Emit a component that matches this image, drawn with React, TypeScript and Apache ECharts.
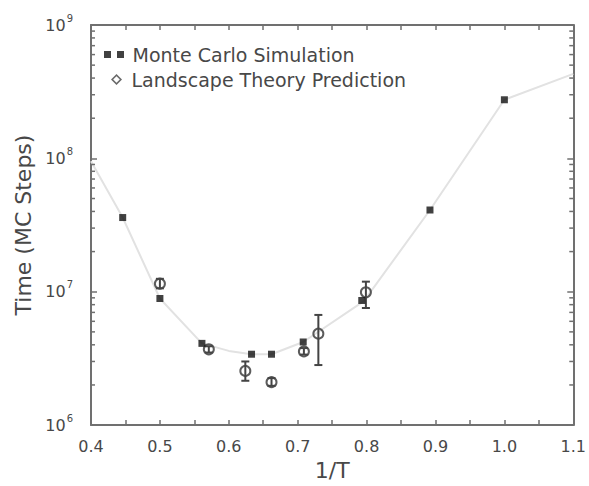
import React, { useEffect, useRef } from "react";
import * as echarts from "echarts";

// Monte Carlo simulation (filled squares)
const mcX = [0.446, 0.5, 0.561, 0.633, 0.662, 0.708, 0.793, 0.892, 1.0];
const mcY = [3.6e7, 8.9e6, 4.1e6, 3.4e6, 3.4e6, 4.2e6, 8.6e6, 4.1e7, 2.75e8];

// Landscape theory prediction (open circles with error bars)
const ltX = [0.5, 0.571, 0.624, 0.662, 0.709, 0.73, 0.799];
const ltY = [1.15e7, 3.7e6, 2.55e6, 2.1e6, 3.57e6, 4.85e6, 9.9e6];
const ltLow = [1.06e7, 3.5e6, 2.15e6, 1.97e6, 3.38e6, 2.82e6, 7.55e6];
const ltHigh = [1.25e7, 3.9e6, 3.0e6, 2.25e6, 3.78e6, 6.7e6, 1.19e7];

// light guide line
const guideX = [0.4, 0.446, 0.5, 0.561, 0.6, 0.633, 0.662, 0.708, 0.796, 0.892, 1.0, 1.1];
const guideY = [9.5e7, 3.6e7, 8.9e6, 4.1e6, 3.6e6, 3.4e6, 3.4e6, 4.2e6, 8.5e6, 4.1e7, 2.75e8, 4.3e8];

const xTickLabels = ["0.4", "0.5", "0.6", "0.7", "0.8", "0.9", "1.0", "1.1"];
const yDecades = [1e6, 1e7, 1e8];
const yMinorMultipliers = [2, 3, 4, 5, 6, 7, 8, 9];

const MC_NAME = "Monte Carlo Simulation";
const LT_NAME = "Landscape Theory Prediction";

const FONT = "DejaVu Sans";
const TEXT = "#484848";
const FRAME = "#707070";

export default function App() {
  const ref = useRef<HTMLDivElement>(null);

  useEffect(() => {
    if (!ref.current) return;
    const chart = echarts.init(ref.current, null, { renderer: "svg" });

    const minorTicks: number[][] = [];
    yDecades.forEach((d) => yMinorMultipliers.forEach((m) => minorTicks.push([0.4, d * m])));

    const xMin = 0.4, xMax = 1.1, yMin = 1e6, yMax = 1e9;

    const xAxisBase = {
      type: "value",
      min: xMin,
      max: xMax,
      interval: 0.1,
      axisLine: { show: true, lineStyle: { color: FRAME, width: 2 } },
      axisTick: { show: true, inside: true, length: 5, lineStyle: { color: FRAME, width: 1.5 } },
      minorTick: { show: true, splitNumber: 2, length: 5, lineStyle: { color: FRAME, width: 1.5 } },
      splitLine: { show: false },
    };
    const yAxisBase = {
      type: "log",
      logBase: 10,
      min: yMin,
      max: yMax,
      axisLine: { show: true, lineStyle: { color: FRAME, width: 2 } },
      axisTick: { show: true, inside: true, length: 6, lineStyle: { color: FRAME, width: 1.5 } },
      minorTick: { show: false },
      splitLine: { show: false },
    };

    const option: any = {
      animation: false,
      backgroundColor: "#ffffff",
      grid: { left: 91, right: 14, top: 25, bottom: 54 },
      legend: [
        {
          left: 104,
          top: 45,
          padding: 0,
          itemWidth: 27,
          itemHeight: 7,
          selectedMode: false,
          textStyle: { fontFamily: FONT, fontSize: 19, color: TEXT },
          data: [
            {
              name: MC_NAME,
              icon: "path://M0,0h7v7h-7z M13,0h7v7h-7z",
              itemStyle: { color: "#111", borderWidth: 0 },
            },
          ],
        },
        {
          left: 111,
          top: 70,
          padding: 0,
          itemWidth: 20,
          itemHeight: 11,
          selectedMode: false,
          textStyle: { fontFamily: FONT, fontSize: 19, color: TEXT },
          data: [
            {
              name: LT_NAME,
              icon: "path://M5,0L10,5L5,10L0,5Z M5,2L2,5L5,8L8,5Z",
              itemStyle: { color: "#444", borderWidth: 0 },
            },
          ],
        },
      ],
      xAxis: [
        {
          ...xAxisBase,
          position: "bottom",
          name: "1/T",
          nameLocation: "middle",
          nameGap: 25,
          nameTextStyle: { fontFamily: FONT, fontSize: 22, color: TEXT },
          axisLabel: {
            show: true,
            margin: 13,
            fontFamily: FONT,
            fontSize: 16,
            color: TEXT,
            formatter: (v: number) => {
              const idx = Math.round((v - xMin) / 0.1);
              return xTickLabels[idx] ?? "";
            },
          },
        },
        {
          ...xAxisBase,
          position: "top",
          axisLabel: { show: false },
        },
      ],
      yAxis: [
        {
          ...yAxisBase,
          position: "left",
          name: "Time (MC Steps)",
          nameLocation: "middle",
          nameGap: 52,
          nameTextStyle: { fontFamily: FONT, fontSize: 22, color: TEXT },
          axisLabel: {
            show: true,
            margin: 18,
            formatter: (v: number) => "{b|10}{s|" + Math.round(Math.log10(v)) + "}",
            rich: {
              b: { fontFamily: FONT, fontSize: 16, color: TEXT, lineHeight: 24 },
              s: { fontFamily: FONT, fontSize: 10, color: TEXT, lineHeight: 10, verticalAlign: "top", padding: [0, 0, 0, 1] },
            },
          },
        },
        {
          ...yAxisBase,
          position: "right",
          axisLabel: { show: false },
        },
      ],
      series: [
        {
          name: "guide",
          type: "line",
          data: guideX.map((x, i) => [x, guideY[i]]),
          showSymbol: false,
          symbol: "none",
          silent: true,
          lineStyle: { color: "#e2e2e2", width: 2 },
          z: 1,
        },
        {
          name: "minorTicks",
          type: "custom",
          silent: true,
          data: minorTicks,
          encode: { x: 0, y: 1 },
          renderItem: (_params: any, api: any) => {
            const v = api.value(1);
            const pL = api.coord([xMin, v]);
            const pR = api.coord([xMax, v]);
            const st = { stroke: FRAME, lineWidth: 1.5 };
            return {
              type: "group",
              children: [
                { type: "line", shape: { x1: pL[0], y1: pL[1], x2: pL[0] + 4, y2: pL[1] }, style: st },
                { type: "line", shape: { x1: pR[0] - 4, y1: pR[1], x2: pR[0], y2: pR[1] }, style: st },
              ],
            };
          },
          z: 2,
        },
        {
          name: LT_NAME,
          type: "scatter",
          data: ltX.map((x, i) => [x, ltY[i]]),
          symbol: "circle",
          symbolSize: 10,
          itemStyle: { color: "rgba(0,0,0,0)", borderColor: "#333", borderWidth: 2 },
          z: 3,
        },
        {
          name: "errors",
          type: "custom",
          silent: true,
          data: ltX.map((x, i) => [x, ltLow[i], ltHigh[i]]),
          encode: { x: 0, y: [1, 2] },
          renderItem: (_params: any, api: any) => {
            const x = api.value(0);
            const lo = api.coord([x, api.value(1)]);
            const hi = api.coord([x, api.value(2)]);
            const cw = 4;
            const st = { stroke: "#444", lineWidth: 2 };
            return {
              type: "group",
              children: [
                { type: "line", shape: { x1: lo[0], y1: lo[1], x2: hi[0], y2: hi[1] }, style: st },
                { type: "line", shape: { x1: lo[0] - cw, y1: lo[1], x2: lo[0] + cw, y2: lo[1] }, style: st },
                { type: "line", shape: { x1: hi[0] - cw, y1: hi[1], x2: hi[0] + cw, y2: hi[1] }, style: st },
              ],
            };
          },
          z: 4,
        },
        {
          name: MC_NAME,
          type: "scatter",
          data: mcX.map((x, i) => [x, mcY[i]]),
          symbol: "rect",
          symbolSize: 7,
          itemStyle: { color: "#111" },
          z: 5,
        },
      ],
    };

    chart.setOption(option);
    return () => chart.dispose();
  }, []);

  return (
    <div
      ref={ref}
      style={{ position: "fixed", left: 0, top: 0, width: 589, height: 486, background: "#fff" }}
    />
  );
}
